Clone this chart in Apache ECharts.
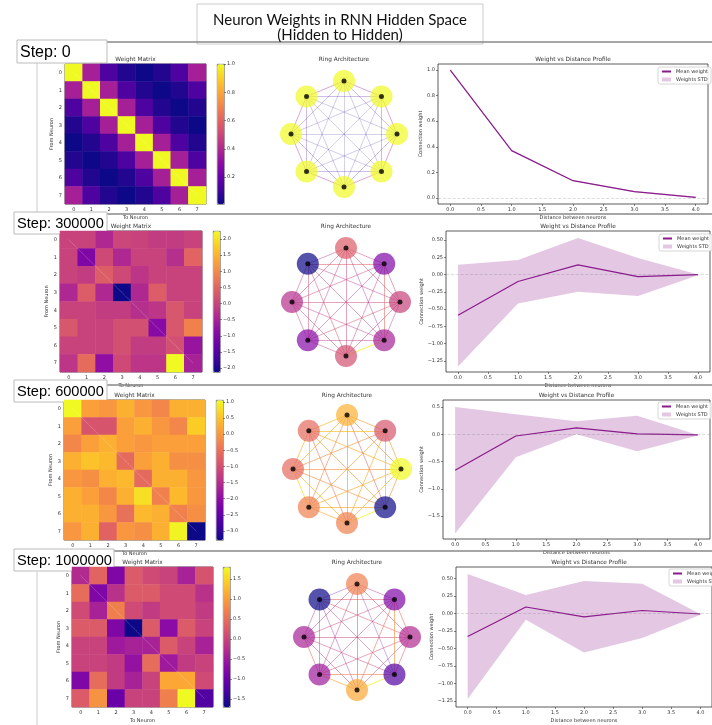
<!DOCTYPE html>
<html>
<head>
<meta charset="utf-8">
<script src="https://cdn.jsdelivr.net/npm/echarts@6/dist/echarts.min.js"></script>
<style>
  html, body { margin: 0; padding: 0; background: #fff; }
  #chart { width: 712px; height: 725px; }
</style>
</head>
<body>
<div id="chart"></div>
<script>
// ---- data ----
const stepLabels = ['Step: 0', 'Step: 300000', 'Step: 600000', 'Step: 1000000'];
const neurons = ['0', '1', '2', '3', '4', '5', '6', '7'];
const distances = [0, 1, 2, 3, 4];

const weights0 = [
  [1.00, 0.37, 0.14, 0.05, 0.01, 0.05, 0.14, 0.37],
  [0.37, 1.00, 0.37, 0.14, 0.05, 0.01, 0.05, 0.14],
  [0.14, 0.37, 1.00, 0.37, 0.14, 0.05, 0.01, 0.05],
  [0.05, 0.14, 0.37, 1.00, 0.37, 0.14, 0.05, 0.01],
  [0.01, 0.05, 0.14, 0.37, 1.00, 0.37, 0.14, 0.05],
  [0.05, 0.01, 0.05, 0.14, 0.37, 1.00, 0.37, 0.14],
  [0.14, 0.05, 0.01, 0.05, 0.14, 0.37, 1.00, 0.37],
  [0.37, 0.14, 0.05, 0.01, 0.05, 0.14, 0.37, 1.00]
];
const weights300k = [
  [0.0, 0.0, -0.4, 0.05, 0.0, -0.1, -0.1, 0.0],
  [0.0, -1.0, 0.1, -0.4, 0.0, 0.0, -0.3, 0.5],
  [0.0, -0.1, 0.4, 0.1, -0.2, 0.0, 0.0, 0.0],
  [-0.4, 0.4, -0.4, -2.12, -0.4, 0.4, 0.0, 0.0],
  [0.0, 0.0, -0.1, -0.1, -0.3, -0.2, 0.3, 0.0],
  [0.3, 0.0, 0.0, 0.2, 0.2, -0.9, 0.3, 0.9],
  [0.0, 0.0, 0.0, 0.2, -0.1, -0.1, 0.2, -0.7],
  [-0.2, 0.6, -0.8, 0.1, -0.2, -0.2, 2.25, -0.5]
];
const weights600k = [
  [1.06, 0.1, 0.0, 0.3, 0.0, -0.2, 0.3, 0.3],
  [0.1, -0.9, -0.9, 0.1, 0.3, 0.0, -0.2, 0.6],
  [-0.2, 0.1, 0.3, 0.1, 0.0, 0.1, 0.1, 0.1],
  [0.3, 0.5, 0.4, -0.6, 0.1, 0.3, -0.1, -0.1],
  [0.0, -0.1, 0.3, 0.4, -0.6, 0.3, 0.3, 0.0],
  [0.3, 0.1, -0.2, 0.3, 0.8, -0.3, 0.4, 0.0],
  [0.3, 0.3, 0.0, -0.5, 0.4, 0.3, -0.3, -0.1],
  [0.0, 0.3, -0.7, 0.0, -0.1, 0.3, 1.0, -3.28]
];
const weights1m = [
  [-0.3, 0.4, -0.8, 0.3, 0.1, 0.0, -0.4, 0.2],
  [0.5, -0.8, -0.2, 0.3, 0.3, 0.1, 0.1, -0.2],
  [0.1, -0.4, 0.7, 0.1, -0.1, 0.1, 0.1, -0.1],
  [0.3, 0.3, -0.8, -1.7, 0.3, -0.7, 0.3, 0.0],
  [0.0, 0.0, -0.5, -0.4, -0.4, 0.3, 0.0, -0.4],
  [0.0, 0.0, -0.1, -0.6, 0.5, -0.5, -0.1, 0.0],
  [-0.8, 0.5, -0.1, -0.4, 0.0, 1.1, 1.1, 0.1],
  [0.3, 0.9, -1.0, 0.0, 0.0, 0.7, 1.8, -1.2]
];

const colorRanges = [[0.01, 1.0], [-2.12, 2.25], [-3.28, 1.06], [-1.7, 1.8]];
const colorbarTicks = [
  [0.2, 0.4, 0.6, 0.8, 1.0],
  [-2, -1.5, -1, -0.5, 0, 0.5, 1, 1.5, 2],
  [-3, -2.5, -2, -1.5, -1, -0.5, 0, 0.5, 1],
  [-1.5, -1, -0.5, 0, 0.5, 1, 1.5]
];

const meanWeight0 = [1.0, 0.37, 0.135, 0.05, 0.005];
const stdLow0 = [0.995, 0.365, 0.13, 0.045, 0.0];
const stdHigh0 = [1.005, 0.375, 0.14, 0.055, 0.01];
const meanWeight300k = [-0.59, -0.10, 0.14, -0.03, 0.0];
const stdLow300k = [-1.33, -0.42, -0.25, -0.31, -0.01];
const stdHigh300k = [0.14, 0.21, 0.53, 0.24, 0.0];
const meanWeight600k = [-0.66, -0.03, 0.12, 0.01, -0.01];
const stdLow600k = [-1.82, -0.42, 0.0, -0.31, -0.02];
const stdHigh600k = [0.50, 0.37, 0.24, 0.34, -0.01];
const meanWeight1m = [-0.33, 0.09, -0.05, 0.04, -0.01];
const stdLow1m = [-1.22, -0.09, -0.56, -0.35, -0.02];
const stdHigh1m = [0.56, 0.26, 0.46, 0.42, -0.01];

const profileRanges = [[-0.047, 1.047], [-1.41, 0.63], [-1.92, 0.63], [-1.335, 0.66]];
const profileTicks = [
  [0, 0.2, 0.4, 0.6, 0.8, 1.0],
  [-1.25, -1, -0.75, -0.5, -0.25, 0, 0.25, 0.5],
  [-1.5, -1, -0.5, 0, 0.5],
  [-1.25, -1, -0.75, -0.5, -0.25, 0, 0.25, 0.5]
];
const profileDecimals = [1, 2, 1, 2];
const distanceTicks = [0, 0.5, 1, 1.5, 2, 2.5, 3, 3.5, 4];

const matrices = [weights0, weights300k, weights600k, weights1m];
const means = [meanWeight0, meanWeight300k, meanWeight600k, meanWeight1m];
const lows = [stdLow0, stdLow300k, stdLow600k, stdLow1m];
const highs = [stdHigh0, stdHigh300k, stdHigh600k, stdHigh1m];

// ---- layout (pixels) ----
const layout = [
  { hm: [65, 64, 141, 140], cb: 217, ring: [344, 134, 53], prof: [438, 64, 270, 140], leg: [658, 67], step: [17, 40, 90, 23], stepFont: 16, sep: 42 },
  { hm: [60, 231, 142, 141], cb: 213, ring: [346, 302, 54], prof: [446, 231, 264, 141], leg: [659, 234], step: [14, 212, 93, 22], stepFont: 14.6, sep: 214 },
  { hm: [64, 400, 141, 140], cb: 216, ring: [347, 469, 54], prof: [443, 400, 267, 139], leg: [658, 402], step: [14, 380, 93, 22], stepFont: 14.6, sep: 385 },
  { hm: [72, 567, 141, 140], cb: 223, ring: [357, 637, 53], prof: [456, 567, 266, 140], leg: [669, 569], step: [14, 549, 100, 22], stepFont: 14.6, sep: 551 }
];

const plasmaStops = ['#0d0887', '#41049d', '#6a00a8', '#8f0da4', '#b12a90', '#cc4778',
  '#e16462', '#f2844b', '#fca636', '#fcce25', '#f0f921'];
function hexRgb(h) { return [1, 3, 5].map(i => parseInt(h.slice(i, i + 2), 16)); }
function plasma(t) {
  t = Math.max(0, Math.min(1, t));
  const p = t * 10, i = Math.min(9, Math.floor(p)), f = p - i;
  const a = hexRgb(plasmaStops[i]), b = hexRgb(plasmaStops[i + 1]);
  return 'rgb(' + a.map((v, k) => Math.round(v + (b[k] - v) * f)).join(',') + ')';
}
const fmt = (v, d) => v.toFixed(d).replace('-', '\u2212');

const font = 'DejaVu Sans';
const txt = '#333';
const tickSize = 5;
const titleSize = 5.8;
const bandColor = 'rgba(128,0,128,0.22)';
const lineColor = '#8b1a8b';

const grids = [], xAxes = [], yAxes = [], series = [], visualMaps = [];
const polars = [], angleAxes = [], radiusAxes = [], legends = [], graphics = [];

function addText(text, x, y, size, family, fill, z) {
  graphics.push({
    type: 'text', x: x, y: y, silent: true, z: z || 1,
    style: { text: text, fill: fill || txt, font: size + 'px "' + (family || font) + '"', textAlign: 'center', textVerticalAlign: 'bottom' }
  });
}

// title box
graphics.push({ type: 'rect', shape: { x: 197, y: 4, width: 286, height: 40 }, style: { fill: '#fff', stroke: '#ccc', lineWidth: 1 }, z: 1 });
addText('Neuron Weights in RNN Hidden Space', 340, 28, 15, 'Lato', '#111', 2);
addText('(Hidden to Hidden)', 340, 43, 15, 'Lato', '#111', 2);

const labelStyle = { fontSize: tickSize, color: txt, margin: 3, fontFamily: font };
const tickStyle = { length: 2, lineStyle: { color: '#333', width: 0.6 } };
const axisCommon = {
  nameTextStyle: { fontSize: tickSize, color: txt, fontFamily: font },
  axisLine: { show: false, onZero: false },
  splitLine: { show: false }
};

layout.forEach((L, r) => {
  const W = matrices[r];
  const [vmin, vmax] = colorRanges[r];
  const norm = v => (v - vmin) / (vmax - vmin);
  const g0 = grids.length;

  // step label and separator
  const [sx, sy, sw, sh] = L.step;
  graphics.push({ type: 'line', shape: { x1: sx + sw, y1: L.sep, x2: 712, y2: L.sep }, style: { stroke: '#888', lineWidth: 1.5 }, z: 1 });
  graphics.push({ type: 'rect', shape: { x: sx, y: sy, width: sw, height: sh }, style: { fill: '#fff', stroke: '#bbb', lineWidth: 1 }, z: 2 });
  graphics.push({ type: 'text', x: sx + 3, y: sy + sh / 2 + 1, z: 3, silent: true,
    style: { text: stepLabels[r], fill: '#000', font: L.stepFont + 'px "Liberation Sans"', textAlign: 'left', textVerticalAlign: 'middle' } });

  // heatmap
  const [hx, hy, hw, hh] = L.hm;
  grids.push({ left: hx, top: hy, width: hw, height: hh, show: true, borderColor: '#333', borderWidth: 0.8 });
  xAxes.push(Object.assign({}, axisCommon, { type: 'category', gridIndex: g0, data: neurons, name: 'To Neuron', nameLocation: 'middle', nameGap: 11,
    axisTick: Object.assign({ alignWithLabel: true }, tickStyle), axisLabel: labelStyle }));
  yAxes.push(Object.assign({}, axisCommon, { type: 'category', gridIndex: g0, data: neurons, inverse: true, name: 'From Neuron', nameLocation: 'middle', nameGap: 11,
    axisTick: Object.assign({ alignWithLabel: true }, tickStyle), axisLabel: labelStyle }));
  const cells = [];
  W.forEach((row, i) => row.forEach((v, j) => cells.push([j, i, v])));
  const hmIndex = series.length;
  series.push({ type: 'heatmap', xAxisIndex: g0, yAxisIndex: g0, data: cells, silent: true,
    markLine: { silent: true, symbol: ['none', 'none'], label: { show: false },
      lineStyle: { color: 'rgba(255,255,255,0.55)', width: 0.7, type: 'dotted' },
      data: [[{ coord: [0, 0] }, { coord: [7, 7] }]] } });
  visualMaps.push({ type: 'continuous', seriesIndex: hmIndex, min: vmin, max: vmax, calculable: false,
    left: L.cb, top: hy, itemWidth: 7, itemHeight: hh, padding: 0, text: null, showLabel: false,
    borderColor: '#333', borderWidth: 0.6, inRange: { color: plasmaStops } });
  addText('Weight Matrix', hx + hw / 2, hy - 2, titleSize);

  // colorbar axis
  const g1 = grids.length;
  grids.push({ left: L.cb, top: hy, width: 7, height: hh, show: false });
  xAxes.push({ type: 'value', gridIndex: g1, show: false });
  yAxes.push(Object.assign({}, axisCommon, { type: 'value', gridIndex: g1, min: vmin, max: vmax, position: 'right',
    axisTick: Object.assign({ show: true, customValues: colorbarTicks[r] }, tickStyle),
    axisLabel: Object.assign({ customValues: colorbarTicks[r], formatter: v => fmt(v, 1) }, labelStyle) }));

  // ring
  const [cx, cy, rad] = L.ring;
  polars.push({ center: [cx, cy], radius: rad });
  angleAxes.push({ polarIndex: r, type: 'value', min: 0, max: 8, startAngle: 0, clockwise: false, show: false });
  radiusAxes.push({ polarIndex: r, type: 'value', min: 0, max: 1, show: false });
  const nodes = neurons.map((n, i) => ({ name: n, value: [1, i], itemStyle: { color: plasma(norm(W[i][i])), opacity: 0.7 } }));
  const links = [];
  for (let i = 0; i < 8; i++) {
    for (let j = i + 1; j < 8; j++) {
      const t = norm(W[j][i]);
      links.push({ source: i, target: j, lineStyle: { color: plasma(t), opacity: 0.18 + 0.62 * t, width: 1 } });
    }
  }
  series.push({ type: 'graph', coordinateSystem: 'polar', polarIndex: r, layout: 'none', symbolSize: 22,
    data: nodes, links: links, silent: true, label: { show: false }, z: 2 });
  series.push({ type: 'scatter', coordinateSystem: 'polar', polarIndex: r, symbolSize: 5, silent: true,
    itemStyle: { color: '#000' }, data: neurons.map((n, i) => [1, i]), z: 5 });
  addText('Ring Architecture', cx, hy - 2, titleSize);

  // profile
  const g2 = grids.length;
  const [px, py, pw, ph] = L.prof;
  grids.push({ left: px, top: py, width: pw, height: ph, show: true, borderColor: '#333', borderWidth: 0.8 });
  xAxes.push(Object.assign({}, axisCommon, { type: 'value', gridIndex: g2, min: -0.2, max: 4.2, name: 'Distance between neurons', nameLocation: 'middle', nameGap: 11,
    axisTick: Object.assign({ customValues: distanceTicks }, tickStyle),
    axisLabel: Object.assign({ customValues: distanceTicks, formatter: v => fmt(v, 1) }, labelStyle) }));
  yAxes.push(Object.assign({}, axisCommon, { type: 'value', gridIndex: g2, min: profileRanges[r][0], max: profileRanges[r][1],
    name: 'Connection weight', nameLocation: 'middle', nameGap: r === 0 ? 15 : (r === 2 ? 18 : 20),
    axisTick: Object.assign({ customValues: profileTicks[r] }, tickStyle),
    axisLabel: Object.assign({ customValues: profileTicks[r], formatter: v => fmt(v, profileDecimals[r]) }, labelStyle) }));
  const band = distances.map((d, k) => [d, lows[r][k], highs[r][k]]);
  series.push({ type: 'custom', name: 'Weights STD', xAxisIndex: g2, yAxisIndex: g2, silent: true,
    encode: { x: 0, y: [1, 2] }, itemStyle: { color: bandColor }, data: band, z: 2,
    renderItem: (params, api) => {
      if (params.dataIndex !== 0) return null;
      const upper = band.map(p => api.coord([p[0], p[2]]));
      const lower = band.map(p => api.coord([p[0], p[1]])).reverse();
      return { type: 'polygon', shape: { points: upper.concat(lower) }, style: { fill: bandColor } };
    } });
  series.push({ type: 'line', name: 'Mean weight', xAxisIndex: g2, yAxisIndex: g2, symbol: 'none', silent: true,
    itemStyle: { color: lineColor }, lineStyle: { color: lineColor, width: 1.2 }, z: 4,
    data: distances.map((d, k) => [d, means[r][k]]),
    markLine: { silent: true, symbol: ['none', 'none'], label: { show: false },
      lineStyle: { color: 'rgba(128,128,128,0.35)', type: 'dashed', width: 0.8 }, data: [{ yAxis: 0 }] } });
  legends.push({ left: L.leg[0], top: L.leg[1], orient: 'vertical', itemGap: 3, itemWidth: 9, itemHeight: 4,
    padding: [2, 3], borderColor: '#ccc', borderWidth: 0.8, borderRadius: 2, backgroundColor: 'rgba(255,255,255,0.85)',
    textStyle: { fontSize: 5, color: txt, fontFamily: font }, selectedMode: false,
    data: [
      { name: 'Mean weight', itemStyle: { opacity: 0 } },
      { name: 'Weights STD', icon: 'rect', itemStyle: { color: bandColor } }
    ] });
  addText('Weight vs Distance Profile', px + pw / 2, py - 2, titleSize);
});

// left frame strokes
graphics.push({ type: 'line', shape: { x1: 37, y1: 63, x2: 37, y2: 212 }, style: { stroke: '#ccc', lineWidth: 1 } });
graphics.push({ type: 'line', shape: { x1: 37, y1: 572, x2: 37, y2: 725 }, style: { stroke: '#ccc', lineWidth: 1 } });

const chart = echarts.init(document.getElementById('chart'));
chart.setOption({
  animation: false,
  backgroundColor: '#fff',
  textStyle: { fontFamily: font },
  grid: grids,
  xAxis: xAxes,
  yAxis: yAxes,
  polar: polars,
  angleAxis: angleAxes,
  radiusAxis: radiusAxes,
  visualMap: visualMaps,
  legend: legends,
  series: series,
  graphic: graphics
});
</script>
</body>
</html>
